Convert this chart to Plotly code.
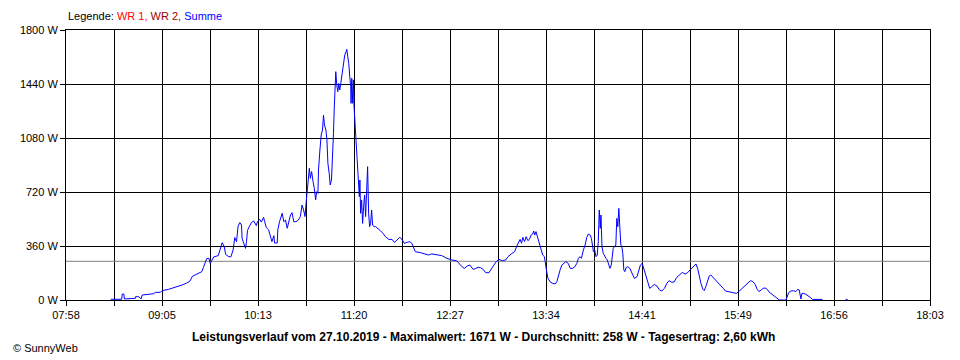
import numpy as np
import plotly.graph_objects as go

# ---- data -------------------------------------------------------------
# time of day in minutes after midnight, power of "Summe" in W
zeit_min = [
    509.3, 517.0, 517.4, 518.5, 518.9, 522.0, 522.3, 526.5, 526.7, 529.0, 530.6, 531.3,
    539.4, 540.6, 544.1, 545.2, 549.8, 552.2, 555.7, 559.2, 562.6, 564.9, 566.5, 568.4,
    570.7, 573.1, 574.2, 575.4, 576.5, 578.1, 579.0, 580.0, 581.4, 584.6, 585.8, 587.4,
    588.8, 589.8, 591.6, 593.4, 595.0, 596.2, 597.4, 598.5, 599.7, 600.9, 601.3, 602.7,
    603.7, 604.4, 605.1, 606.2, 607.8, 609.4, 611.3, 612.0, 613.6, 614.8, 616.4, 617.1,
    618.3, 619.9, 621.0, 622.2, 623.6,
    624.0, 625.9, 626.3, 627.5, 629.4, 630.5, 631.7, 632.9, 633.8, 635.2, 636.3, 637.5,
    639.1, 640.7, 642.1, 643.3, 644.4, 645.4, 646.1, 647.2, 648.4, 649.1, 650.0, 651.0,
    651.9, 652.8, 653.5, 654.4, 654.8, 655.8, 656.7, 657.6, 658.3, 659.0, 660.0, 660.7,
    661.4, 662.3, 663.0, 663.9, 664.6, 665.3, 665.8, 666.5, 666.9, 667.6, 668.3, 669.0,
    669.7, 670.4, 671.3, 672.2, 673.2, 674.1, 674.6, 675.3, 676.0, 676.7, 677.4, 677.6,
    678.1, 678.8, 679.2, 679.7, 680.4, 680.9, 681.6, 682.0, 682.7, 683.4, 683.8, 684.3,
    685.0, 685.7, 686.4, 687.1, 687.8, 688.5, 689.2, 689.9, 690.6, 691.3, 692.0, 692.7,
    693.6,
    694.8, 696.4, 698.2, 700.0, 701.7, 704.0, 706.3, 708.0, 709.8, 711.7, 713.3, 714.9,
    716.7, 718.6, 720.2, 721.4, 722.6, 726.1, 729.5, 731.8, 734.1, 737.6, 741.1, 744.6,
    748.0, 751.5, 753.4, 755.7, 757.3, 758.9, 760.8, 763.1, 765.0, 766.6, 768.2, 770.1,
    771.9, 774.2, 775.8, 777.5, 779.3, 781.2, 783.5, 785.9, 787.5, 789.8, 792.1, 793.7,
    795.1, 796.0, 797.0, 797.9, 799.1, 800.2, 801.4, 802.5, 803.7, 804.8, 805.5, 806.2,
    807.1, 808.1, 809.0, 810.4, 811.8, 813.0, 813.7, 814.6, 815.5, 816.9, 818.7, 820.6,
    821.7, 822.9, 824.1, 825.2,
    826.4, 828.0, 829.7, 831.1, 832.7, 834.3, 835.7, 836.8, 838.0, 838.9, 840.3, 841.5,
    842.6, 843.8, 845.0, 845.9, 846.8, 847.3, 848.2, 849.1, 850.0, 850.7, 851.4, 852.1,
    852.6, 853.3, 854.2, 855.1, 856.1, 857.0, 857.9, 858.9, 859.8, 860.5, 861.2, 862.1,
    863.0, 863.7, 864.4, 865.1, 865.8, 866.5, 867.2, 867.9, 868.6, 869.3, 870.2, 871.4,
    872.8, 874.4, 876.0, 877.9, 879.0, 880.2, 881.5, 882.9, 884.1, 885.3, 886.7, 888.3,
    889.9, 891.8, 893.6, 895.2,
    897.1, 898.7, 900.3, 902.2, 903.8, 905.7, 908.0, 909.6, 911.4, 913.3, 914.9, 916.6,
    918.0, 919.1, 920.3, 921.5, 922.6, 924.0, 924.9, 926.0, 927.2, 928.4, 929.5, 931.2,
    932.8, 934.7, 936.5, 938.2, 939.8, 941.6, 943.9, 945.8, 947.4, 949.0, 950.9, 952.8,
    954.6, 956.0, 957.3, 959.0, 960.6, 962.0, 963.2, 964.8, 966.2, 967.6, 969.0, 970.6,
    972.2, 974.0, 975.9, 977.5, 982.2, 982.9, 984.0, 985.6, 987.5, 989.1, 990.3, 991.4,
    992.1, 992.6, 993.3, 994.5, 996.1, 997.7, 999.1, 1000.7, 1007.7,
]
summe_w = [
    5, 5, 40, 40, 7, 7, 11, 11, 22, 22, 7, 33,
    42, 51, 51, 62, 71, 78, 87, 100, 113, 127, 158, 167,
    173, 189, 216, 244, 276, 278, 244, 262, 287, 296, 327, 382,
    356, 304, 291, 287, 333, 416, 389, 493, 516, 500, 411, 367,
    344, 389, 464, 487, 516, 527, 496, 520, 538, 520, 551, 522,
    482, 467, 422, 389, 429,
    380, 380, 467, 522, 578, 522, 533, 478, 522, 567, 582, 522,
    522, 533, 556, 633, 600, 556, 644, 778, 878, 811, 856, 789,
    744, 667, 722, 711, 867, 1000, 1100, 1133, 1233, 1167, 1133, 1067,
    911, 844, 767, 800, 933, 1111, 1267, 1422, 1522, 1433, 1389, 1444,
    1400, 1444, 1511, 1567, 1633, 1656, 1671, 1622, 1578, 1489, 1422, 1311,
    1478, 1311, 1467, 1289, 1178, 1044, 1000, 889, 756, 689, 800, 578,
    667, 511, 622, 700, 556, 711, 889, 578, 489, 511, 600, 500,
    489,
    489, 478, 462, 444, 422, 404, 404, 384, 404, 418, 404, 378,
    384, 389, 378, 351, 322, 316, 304, 300, 307, 304, 296, 278,
    267, 262, 240, 218, 211, 227, 233, 204, 211, 218, 216, 204,
    182, 182, 207, 233, 256, 271, 262, 267, 289, 307, 322, 360,
    389, 404, 378, 418, 389, 422, 396, 404, 433, 440, 460, 433,
    456, 422, 378, 333, 300, 289, 256, 189, 144, 122, 111, 107,
    122, 167, 204, 233,
    244, 256, 244, 211, 211, 222, 244, 278, 289, 278, 333, 367,
    416, 440, 433, 411, 356, 322, 333, 289, 300, 389, 600, 478,
    567, 356, 311, 289, 278, 267, 244, 211, 233, 300, 344, 356,
    367, 544, 489, 611, 489, 367, 356, 311, 200, 189, 216, 222,
    211, 178, 144, 156, 200, 233, 244, 200, 156, 111, 78, 89,
    104, 93, 67, 60,
    78, 111, 129, 118, 120, 151, 173, 184, 173, 182, 200, 218,
    233, 240, 211, 156, 111, 71, 62, 89, 133, 160, 167, 151,
    133, 118, 100, 78, 60, 56, 56, 49, 44, 56, 73, 93,
    111, 124, 129, 122, 104, 71, 56, 67, 78, 80, 71, 51,
    38, 22, 7, 0, 0, 22, 49, 60, 62, 56, 71, 67,
    22, 7, 44, 44, 38, 29, 18, 4, 4,
]
# short isolated reading late in the day
zeit_spaet = [1023.9, 1025.3]
summe_spaet = [4, 4]

durchschnitt_w = 258
x_start_min, x_end_min = 478, 1083          # 07:58 .. 18:03
x_tick_labels = ["07:58", "09:05", "10:13", "11:20", "12:27",
                 "13:34", "14:41", "15:49", "16:56", "18:03"]
y_tick_values = [0, 360, 720, 1080, 1440, 1800]
y_tick_labels = [f"{v} W" for v in y_tick_values]

FONT = "Liberation Sans, Arial, sans-serif"

# page body has an 8px default margin -> compensate in figure size/margins
PAGE_OFF = 8
FIG_W, FIG_H = 960 - PAGE_OFF, 360 - PAGE_OFF
M_L, M_R, M_T, M_B = 60 - PAGE_OFF, 30, 30 - PAGE_OFF, 60
PLOT_H = FIG_H - M_T - M_B      # 270
PLOT_W = FIG_W - M_L - M_R      # 870


def px_to_paper(px, py):
    """convert a screen position (page pixels) to paper coordinates"""
    x0 = PAGE_OFF + M_L
    y_bottom = PAGE_OFF + M_T + PLOT_H
    return (px - x0) / PLOT_W, (y_bottom - py) / PLOT_H


# ---- figure -----------------------------------------------------------
fig = go.Figure()

fig.add_trace(go.Scatter(
    x=[x_start_min, x_end_min], y=[durchschnitt_w, durchschnitt_w],
    mode="lines", line=dict(color="#808080", width=1),
    hoverinfo="skip", showlegend=False))

fig.add_trace(go.Scatter(
    x=zeit_min + [None] + zeit_spaet, y=summe_w + [None] + summe_spaet,
    mode="lines", line=dict(color="#0000FF", width=1),
    connectgaps=False, name="Summe", showlegend=False))

n_int = 2 * (len(x_tick_labels) - 1)
tickvals = np.linspace(x_start_min, x_end_min, n_int + 1)
ticktext = [x_tick_labels[i // 2] if i % 2 == 0 else "" for i in range(n_int + 1)]

axis_common = dict(
    showgrid=True, gridcolor="black", gridwidth=1,
    showline=True, linecolor="black", linewidth=1, mirror=True,
    ticks="outside", ticklen=5, tickcolor="black", tickwidth=1,
    zeroline=False, layer="below traces",
    tickfont=dict(family=FONT, size=11, color="black"),
)

fig.update_xaxes(range=[x_start_min, x_end_min], tickmode="array",
                 tickvals=tickvals, ticktext=ticktext, **axis_common)
fig.update_yaxes(range=[0, 1800], tickmode="array",
                 tickvals=y_tick_values, ticktext=y_tick_labels, **axis_common)

lx, ly = px_to_paper(60, 16)
fig.add_annotation(
    xref="paper", yref="paper", x=lx, y=ly,
    xanchor="left", yanchor="middle", showarrow=False,
    text=('Legende: <span style="color:#FF0000">WR 1, </span>'
          '<span style="color:#990000">WR 2, </span>'
          '<span style="color:#0000FF">Summe</span>'),
    font=dict(family=FONT, size=11, color="black"))

tx, ty = px_to_paper(480, 337)
fig.add_annotation(
    xref="paper", yref="paper", x=tx, y=ty,
    xanchor="center", yanchor="middle", showarrow=False,
    text=("<b>Leistungsverlauf vom 27.10.2019 - Maximalwert: 1671 W - "
          "Durchschnitt: 258 W - Tagesertrag: 2,60 kWh</b>"),
    font=dict(family=FONT, size=12, color="black"))

cx, cy = px_to_paper(5, 348)
fig.add_annotation(
    xref="paper", yref="paper", x=cx, y=cy,
    xanchor="left", yanchor="middle", showarrow=False,
    text="© SunnyWeb",
    font=dict(family=FONT, size=11, color="black"))

fig.update_layout(
    width=FIG_W, height=FIG_H,
    margin=dict(l=M_L, r=M_R, t=M_T, b=M_B),
    paper_bgcolor="white", plot_bgcolor="white",
    showlegend=False,
    font=dict(family=FONT, size=11, color="black"),
)

fig.write_html("out.html")
